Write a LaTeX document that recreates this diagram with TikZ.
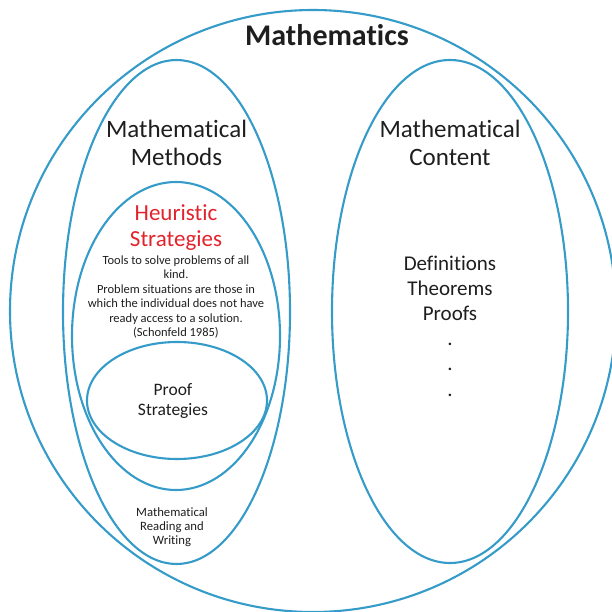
\documentclass[tikz,border=0pt]{standalone}
\usepackage{fontspec}
\setmainfont{Carlito}[Ligatures=NoCommon]
\usetikzlibrary{shapes.geometric}
\definecolor{SetBlue}{HTML}{359BC8}
\definecolor{HeurRed}{HTML}{E3232C}
\definecolor{InkDark}{HTML}{1E1E1E}
\tikzset{
  ring/.style={draw=SetBlue, ellipse, line width=2.1pt, inner sep=0pt},
  txt/.style={align=center, inner sep=0pt, text=InkDark},
  bigtxt/.style={txt, font=\bfseries\fontsize{30}{34}\selectfont},
  headtxt/.style={txt, font=\fontsize{25}{28}\selectfont},
  heurtxt/.style={txt, text=HeurRed, font=\fontsize{23}{26}\selectfont},
  notetxt/.style={txt, font=\fontsize{12.5}{14.4}\selectfont},
  itemtxt/.style={txt, font=\fontsize{21}{25.2}\selectfont}
}

\begin{document}
\begin{tikzpicture}[x=1pt, y=-1pt]
  \useasboundingbox (0,0) rectangle (611,612);

  \node[ring, minimum width=606pt, minimum height=602pt] (maths) at (313,311) {};
  \node[ring, minimum width=227pt, minimum height=504pt] (methods) at (176.5,312) {};
  \node[ring, minimum width=208pt, minimum height=308pt] (heuristic) at (176,336) {};
  \node[ring, minimum width=180pt, minimum height=117pt] (proof) at (177,400.5) {};
  \node[ring, minimum width=236pt, minimum height=503pt] (content) at (450,311.5) {};

  \node[bigtxt] (mathsname) at (327,35) {Mathematics};
  \node[headtxt] (methodsname) at (176.5,143) {Mathematical\\Methods};
  \node[headtxt] (contentname) at (450,143) {Mathematical\\Content};
  \node[heurtxt] (heurname) at (176,228) {Heuristic\\Strategies};
  \node[notetxt] (heurnote) at (176,297)
    {Tools to solve problems of all\\
     kind.\\
     Problem situations are those in\\
     which the individual does not have\\
     ready access to a solution.\\
     (Schonfeld 1985)};
  \node[txt, font=\fontsize{17.5}{20}\selectfont] (proofname) at (173,401)
    {Proof\\Strategies};
  \node[txt, font=\fontsize{12.7}{14}\selectfont] (readname) at (172,527)
    {Mathematical\\Reading and\\Writing};
  \node[itemtxt] (contentlist) at (450,326)
    {Definitions\\Theorems\\Proofs\\.\\.\\.};
\end{tikzpicture}
\end{document}
